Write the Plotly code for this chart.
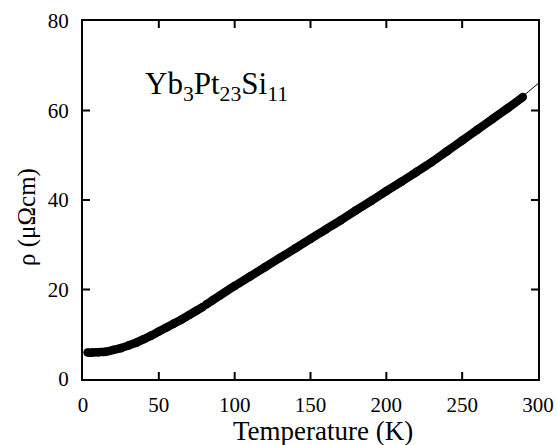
import plotly.graph_objects as go

temp_a = [3, 6, 10, 15, 20, 25, 30, 35, 40, 45, 50, 55, 60, 65, 70, 75, 79]
rho_a = [5.9, 5.9, 6.0, 6.1, 6.5, 6.9, 7.5, 8.1, 8.9, 9.7, 10.6, 11.5, 12.4, 13.3, 14.3, 15.3, 16.1]
temp_b = [81, 85, 90, 100, 110, 120, 130, 140, 150, 160, 170, 180, 190, 200, 210, 220, 230, 240, 250, 260, 270, 280, 290]
rho_b = [16.6, 17.5, 18.6, 20.8, 22.9, 25.0, 27.1, 29.2, 31.3, 33.4, 35.5, 37.7, 39.8, 42.0, 44.1, 46.3, 48.5, 50.9, 53.3, 55.7, 58.1, 60.5, 63.0]
# fit curve
temp_fit = [3, 20, 40, 60, 80, 100, 120, 140, 160, 180, 200, 220, 240, 260, 280, 300]
rho_fit = [5.9, 6.5, 8.9, 12.4, 16.4, 20.8, 25.0, 29.2, 33.4, 37.7, 42.0, 46.3, 50.9, 55.7, 60.5, 66.0]

x_ticks = [0, 50, 100, 150, 200, 250, 300]
y_ticks = [0, 20, 40, 60, 80]
x_range = [0, 300]
y_range = [0, 80]

FONT = "Liberation Serif"
L, R, T, B = 83, 19, 21, 66
W, H = 557, 445
pw, ph = W - L - R, H - T - B
TICK = 7
FRAME = "#000000"
x0, x1 = x_range
y0, y1 = y_range
dx = TICK * (x1 - x0) / pw
dy = TICK * (y1 - y0) / ph


def px(x, y):
    return (x - L) / pw, 1 - (y - T) / ph


fig = go.Figure()
fig.add_trace(go.Scatter(x=temp_fit, y=rho_fit, mode="lines", line=dict(color="black", width=1, shape="spline"),
                         showlegend=False, hoverinfo="skip"))
for tx, ry in [(temp_a, rho_a), (temp_b, rho_b)]:
    fig.add_trace(go.Scatter(x=tx, y=ry, mode="lines+markers", line=dict(color="black", width=8.5, shape="spline"),
                             marker=dict(color="black", size=8.5), showlegend=False))

# inside ticks, built from axis ranges and tick arrays (each tick its own trace)
for v in x_ticks[1:-1]:
    for ya, yb in [(y0, y0 + dy), (y1, y1 - dy)]:
        fig.add_trace(go.Scatter(x=[v, v], y=[ya, yb], mode="lines", line=dict(color=FRAME, width=2),
                                 showlegend=False, hoverinfo="skip"))
for v in y_ticks[1:-1]:
    for xa, xb in [(x0, x0 + dx), (x1, x1 - dx)]:
        fig.add_trace(go.Scatter(x=[xa, xb], y=[v, v], mode="lines", line=dict(color=FRAME, width=2),
                                 showlegend=False, hoverinfo="skip"))

axis_common = dict(showline=True, linecolor=FRAME, linewidth=2, mirror=True, ticks="", showgrid=False,
                   zeroline=False, tickfont=dict(family=FONT, size=21, color="black"))

ax1, ay1 = px(323, 431)
ax2, ay2 = px(143, 86)
ax3, ay3 = px(27, 217)
fig.update_layout(
    width=W, height=H,
    margin=dict(l=L, r=R, t=T, b=B, autoexpand=False),
    plot_bgcolor="white", paper_bgcolor="white",
    xaxis=dict(range=x_range, tickvals=x_ticks, ticklabelstandoff=6, **axis_common),
    yaxis=dict(range=y_range, tickvals=y_ticks, ticklabelstandoff=8, **axis_common),
    annotations=[
        dict(text="Temperature (K)", x=ax1, y=ay1, xref="paper", yref="paper", showarrow=False,
             xanchor="center", yanchor="middle", font=dict(family=FONT, size=27, color="black")),
        dict(text="Yb<sub>3</sub>Pt<sub>23</sub>Si<sub>11</sub>", x=ax2, y=ay2, xref="paper", yref="paper",
             xanchor="left", yanchor="middle", showarrow=False, font=dict(family=FONT, size=31, color="black")),
        dict(text="ρ (μΩcm)", x=ax3, y=ay3, xref="paper", yref="paper", textangle=-90, showarrow=False,
             xanchor="center", yanchor="middle", font=dict(family=FONT, size=25, color="black")),
    ],
)
fig.write_html("out.html", config={"displayModeBar": False})
with open("out.html", encoding="utf-8") as f:
    html = f.read()
html = html.replace("<head>", "<head><style>html,body{margin:0;padding:0;overflow:hidden}</style>", 1)
with open("out.html", "w", encoding="utf-8") as f:
    f.write(html)
